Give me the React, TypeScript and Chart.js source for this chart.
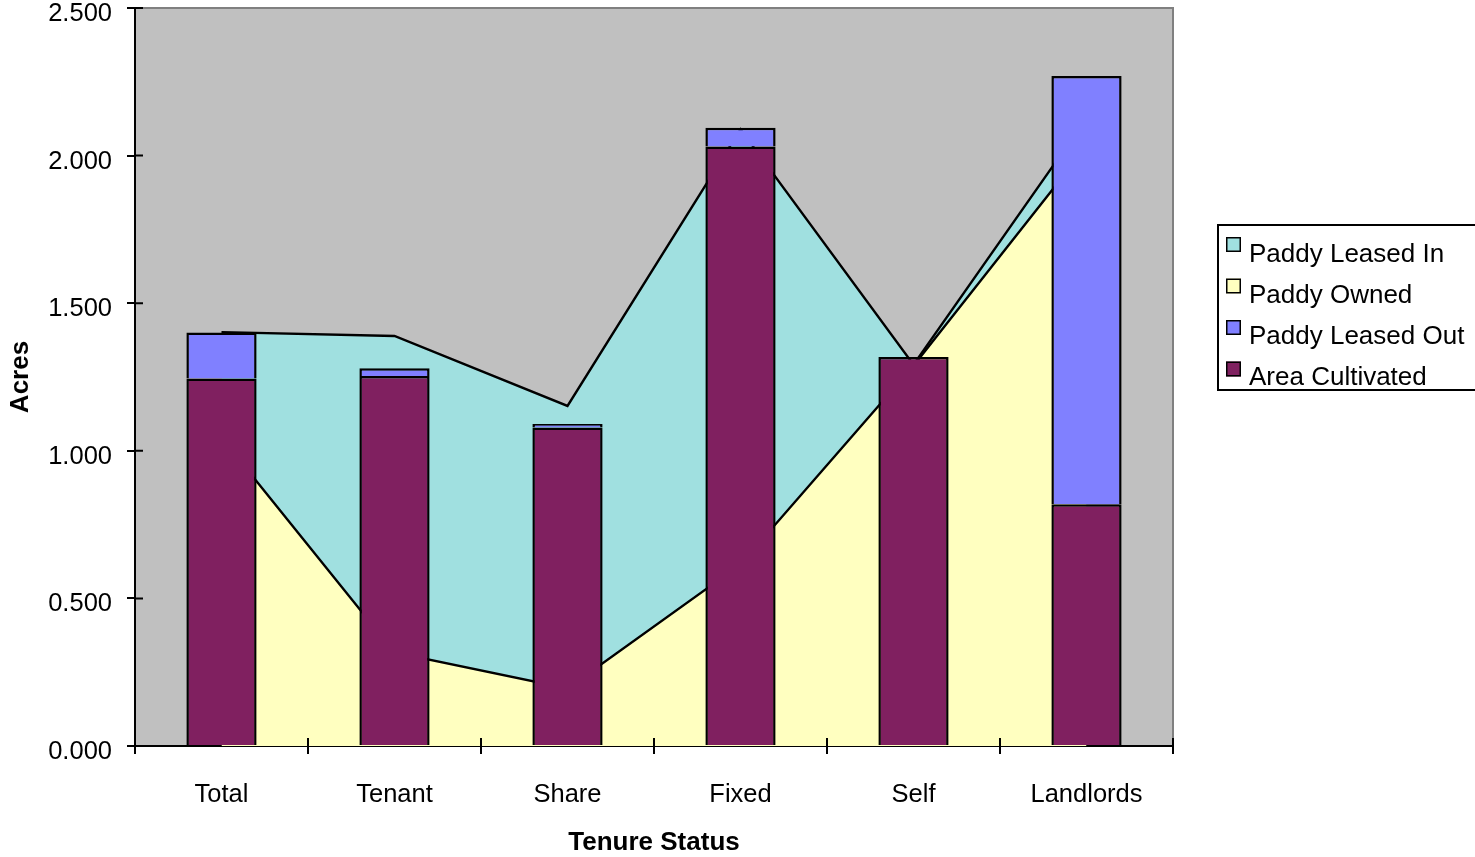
import React, { useEffect, useRef } from "react";
import { Chart, registerables } from "chart.js";

Chart.register(...registerables);

// ---- data ----
const categories = ["Total", "Tenant", "Share", "Fixed", "Self", "Landlords"];
const paddyOwned = [1.044, 0.317, 0.195, 0.615, 1.288, 2.031];
const paddyLeasedIn = [0.358, 1.072, 0.957, 1.474, 0.004, 0.096];
const areaCultivated = [1.245, 1.253, 1.079, 2.031, 1.318, 0.819];
const paddyLeasedOut = [0.156, 0.027, 0.012, 0.063, 0, 1.451];
const yTickValues = [0, 0.5, 1, 1.5, 2, 2.5];
const seriesLabels = ["Paddy Owned", "Paddy Leased In", "Area Cultivated", "Paddy Leased Out"];
// legend order (dataset indices), as in the reference
const legendOrder = [1, 0, 3, 2];

const FONT = '"Liberation Sans", Arial, Helvetica, sans-serif';

const plotBackground = {
  id: "plotBackground",
  beforeDraw(chart: any) {
    const { ctx, chartArea: a } = chart;
    ctx.save();
    ctx.fillStyle = "#C0C0C0";
    ctx.fillRect(a.left, a.top, a.right - a.left, a.bottom - a.top);
    ctx.restore();
  },
  afterDatasetsDraw(chart: any) {
    const { ctx, chartArea: a } = chart;
    ctx.save();
    ctx.strokeStyle = "#808080";
    ctx.lineWidth = 2;
    ctx.beginPath();
    ctx.moveTo(a.left, a.top);
    ctx.lineTo(a.right, a.top);
    ctx.lineTo(a.right, a.bottom);
    ctx.stroke();
    ctx.restore();
  },
};

const crossTicks = {
  id: "crossTicks",
  afterDraw(chart: any) {
    const { ctx, chartArea: a } = chart;
    const xs = chart.scales.x;
    const ys = chart.scales.y;
    ctx.save();
    ctx.strokeStyle = "#000";
    ctx.lineWidth = 2;
    ctx.beginPath();
    ys.ticks.forEach((_t: any, i: number) => {
      const py = ys.getPixelForTick(i);
      ctx.moveTo(a.left, py);
      ctx.lineTo(a.left + 8, py);
    });
    for (let i = 0; i <= categories.length; i++) {
      const px = xs.getPixelForValue(i - 0.5);
      ctx.moveTo(px, a.bottom);
      ctx.lineTo(px, a.bottom - 8);
    }
    ctx.stroke();
    ctx.restore();
  },
};

const boxedLegend = {
  id: "boxedLegend",
  afterDraw(chart: any) {
    const { ctx } = chart;
    const ds = chart.data.datasets;
    ctx.save();
    ctx.strokeStyle = "#000";
    ctx.lineWidth = 2;
    ctx.strokeRect(1218, 225, 400, 165);
    ctx.font = `26px ${FONT}`;
    ctx.textBaseline = "alphabetic";
    ctx.textAlign = "left";
    legendOrder.forEach((dsIndex, i) => {
      const d = ds[dsIndex];
      const top = 237 + i * 41.5;
      ctx.fillStyle = d.backgroundColor;
      ctx.fillRect(1226, top, 15, 15);
      ctx.lineWidth = 1.5;
      ctx.strokeRect(1226.75, top + 0.75, 13.5, 13.5);
      ctx.fillStyle = "#000";
      ctx.fillText(d.label, 1249, 261.7 + i * 41.1);
    });
    ctx.restore();
  },
};

export default function App() {
  const canvasRef = useRef<HTMLCanvasElement | null>(null);

  useEffect(() => {
    document.body.style.margin = "0";
    const canvas = canvasRef.current;
    if (!canvas) return;
    const chart = new Chart(canvas, {
      type: "bar",
      data: {
        labels: categories,
        datasets: [
          {
            type: "line",
            label: seriesLabels[0],
            data: paddyOwned,
            backgroundColor: "#FFFFC0",
            borderColor: "#000000",
            borderWidth: 2.4,
            pointRadius: 0,
            tension: 0,
            fill: "origin",
            order: 2,
          },
          {
            type: "line",
            label: seriesLabels[1],
            data: paddyLeasedIn,
            backgroundColor: "#A0E0E0",
            borderColor: "#000000",
            borderWidth: 2.4,
            pointRadius: 0,
            tension: 0,
            fill: "-1",
            order: 2,
          },
          {
            type: "bar",
            label: seriesLabels[2],
            data: areaCultivated,
            backgroundColor: "#802060",
            borderColor: "#000000",
            borderWidth: 2.5,
            barPercentage: 0.406,
            categoryPercentage: 1,
            order: 1,
          },
          {
            type: "bar",
            label: seriesLabels[3],
            data: paddyLeasedOut,
            backgroundColor: "#8080FF",
            borderColor: "#000000",
            borderWidth: 2.5,
            barPercentage: 0.406,
            categoryPercentage: 1,
            order: 1,
          },
        ] as any,
      },
      options: {
        animation: false,
        responsive: true,
        maintainAspectRatio: false,
        events: [],
        layout: { padding: { top: 8, right: 302, left: 0, bottom: 0 } },
        plugins: {
          legend: { display: false },
          tooltip: { enabled: false },
        },
        scales: {
          x: {
            stacked: true,
            offset: true,
            z: 1,
            grid: {
              offset: true,
              drawOnChartArea: false,
              drawTicks: true,
              tickLength: 8,
              color: "#000",
              lineWidth: 2,
            },
            border: { display: true, color: "#000", width: 2 },
            ticks: {
              color: "#000",
              font: { family: FONT, size: 25.5 },
              padding: 26,
              maxRotation: 0,
              autoSkip: false,
            },
            title: {
              display: true,
              text: "Tenure Status",
              color: "#000",
              font: { family: FONT, size: 26, weight: "bold", lineHeight: 1.1 },
              padding: { top: 0, bottom: 0 },
            },
            afterFit(scale: any) {
              scale.height = 111;
              scale.paddingLeft = 0;
              scale.paddingRight = 0;
            },
          },
          y: {
            stacked: true,
            min: 0,
            max: 2.5,
            z: 1,
            afterBuildTicks(scale: any) {
              scale.ticks = yTickValues.map((v) => ({ value: v }));
            },
            grid: {
              drawOnChartArea: false,
              drawTicks: true,
              tickLength: 8,
              color: "#000",
              lineWidth: 2,
            },
            border: { display: true, color: "#000", width: 2 },
            ticks: {
              color: "#000",
              font: { family: FONT, size: 25.5 },
              padding: 15,
              labelOffset: 6,
              callback: (v: any) => Number(v).toFixed(3),
            },
            title: {
              display: true,
              text: "Acres",
              color: "#000",
              font: { family: FONT, size: 26, weight: "bold" },
              padding: { top: 5, bottom: 0 },
            },
            afterFit(scale: any) {
              scale.width = 135;
              scale.paddingTop = 0;
              scale.paddingBottom = 0;
            },
          },
        },
      } as any,
      plugins: [plotBackground, crossTicks, boxedLegend],
    });
    return () => chart.destroy();
  }, []);

  return (
    <div style={{ position: "fixed", left: 0, top: 0, width: 1475, height: 857 }}>
      <canvas ref={canvasRef} />
    </div>
  );
}
